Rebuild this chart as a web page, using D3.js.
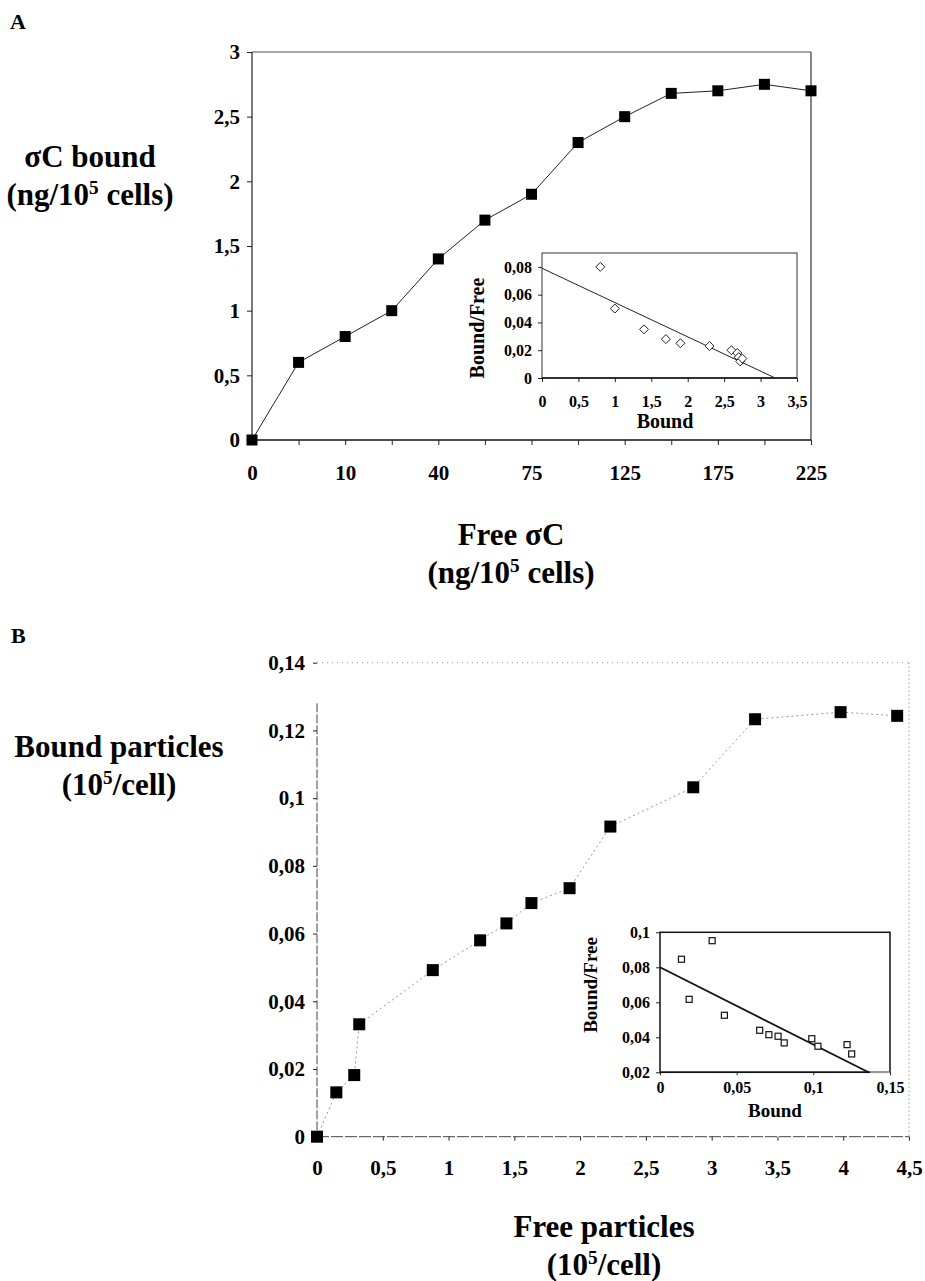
<!DOCTYPE html>
<meta charset="utf-8">
<style>
body { margin: 0; background: #fff; }
svg { display: block; }
text { font-family: "Liberation Serif", "Times New Roman", serif; font-weight: bold; fill: #000; }
.tick line { stroke: #222; }
</style>
<body>
<script src="https://cdn.jsdelivr.net/npm/d3@7"></script>
<script>

// ---- panel A : main curve (x = category index, Excel style axis)
var boundA = [0, 0.6, 0.8, 1.0, 1.4, 1.7, 1.9, 2.3, 2.5, 2.68, 2.7, 2.75, 2.7];
var xTickLabelsA = ["0", "10", "40", "75", "125", "175", "225"];
var yTicksA = [0, 0.5, 1, 1.5, 2, 2.5, 3];

// ---- panel A : inset (Scatchard)
var insetBoundA = [0.8, 1.0, 1.4, 1.7, 1.9, 2.3, 2.6, 2.68, 2.7, 2.72, 2.75];
var insetRatioA = [0.08, 0.05, 0.035, 0.028, 0.025, 0.023, 0.02, 0.018, 0.015, 0.012, 0.014];
var fitA = [[0, 0.079], [3.2, 0]];
var insetXTicksA = [0, 0.5, 1, 1.5, 2, 2.5, 3, 3.5];
var insetYTicksA = [0, 0.02, 0.04, 0.06, 0.08];

// ---- panel B : main curve
var freeB = [0, 0.147, 0.283, 0.321, 0.88, 1.24, 1.44, 1.63, 1.92, 2.23, 2.86, 3.33, 3.98, 4.41];
var boundB = [0, 0.0131, 0.0182, 0.0332, 0.0492, 0.058, 0.063, 0.069, 0.0734, 0.0916, 0.1032, 0.1233, 0.1254, 0.1243];
var xTicksB = [0, 0.5, 1, 1.5, 2, 2.5, 3, 3.5, 4, 4.5];
var yTicksB = [0, 0.02, 0.04, 0.06, 0.08, 0.1, 0.12, 0.14];

// ---- panel B : inset
var insetBoundB = [0.014, 0.034, 0.019, 0.042, 0.065, 0.071, 0.077, 0.081, 0.099, 0.103, 0.122, 0.125];
var insetRatioB = [0.0846, 0.0952, 0.0617, 0.0526, 0.044, 0.0415, 0.0406, 0.0368, 0.0392, 0.0349, 0.0358, 0.0305];
var fitB = [[0, 0.08], [0.136, 0.02]];
var insetXTicksB = [0, 0.05, 0.1, 0.15];
var insetYTicksB = [0.02, 0.04, 0.06, 0.08, 0.1];

var fr = d3.formatLocale({decimal: ",", thousands: ".", grouping: [3], currency: ["", ""]});
var fmt = fr.format("~g");

var svg = d3.select("body").append("svg")
    .attr("width", 925)
    .attr("height", 1281);

svg.append("rect").attr("width", 925).attr("height", 1281).attr("fill", "#fff");

function styleAxis(g, size, color) {
  g.selectAll("text").style("font-size", size + "px");
  g.select(".domain").remove();
  g.selectAll(".tick line").attr("stroke", color || "#222");
}

// two-line title with a superscript 5
function title(x, y, line1, pre, post, size) {
  var t = svg.append("text")
      .attr("x", x)
      .attr("y", y)
      .attr("text-anchor", "middle")
      .style("font-size", size + "px")
      .text(line1);
  var t2 = svg.append("text")
      .attr("x", x)
      .attr("y", y + size * 1.22)
      .attr("text-anchor", "middle")
      .style("font-size", size + "px");
  t2.append("tspan").text(pre);
  t2.append("tspan").attr("dy", -size * 0.36).style("font-size", (size * 0.62) + "px").text("5");
  t2.append("tspan").attr("dy", size * 0.36).text(post);
}

// ================= PANEL A =================
svg.append("text").attr("x", 10).attr("y", 29).style("font-size", "22px").text("A");

var xA = d3.scaleLinear().domain([0, 12]).range([252, 811]);
var yA = d3.scaleLinear().domain([0, 3]).range([440, 52]);

// frame
svg.append("line").attr("x1", xA(0)).attr("x2", xA(12)).attr("y1", yA(3)).attr("y2", yA(3))
    .attr("stroke", "#555").attr("stroke-width", 1);
svg.append("line").attr("x1", xA(12)).attr("x2", xA(12)).attr("y1", yA(3)).attr("y2", yA(0))
    .attr("stroke", "#333").attr("stroke-width", 1.2);
svg.append("line").attr("x1", xA(0)).attr("x2", xA(0)).attr("y1", yA(3)).attr("y2", yA(0))
    .attr("stroke", "#222").attr("stroke-width", 1.2);
svg.append("line").attr("x1", xA(0)).attr("x2", xA(12)).attr("y1", yA(0)).attr("y2", yA(0))
    .attr("stroke", "#111").attr("stroke-width", 1.5);

svg.append("g")
    .attr("transform", "translate(" + xA(0) + ",0)")
    .call(d3.axisLeft(yA).tickValues(yTicksA).tickFormat(fmt).tickSize(5).tickPadding(7))
    .call(styleAxis, 21);

svg.append("g")
    .attr("transform", "translate(0," + yA(0) + ")")
    .call(d3.axisBottom(xA).tickValues(d3.range(13)).tickSize(5).tickPadding(20)
      .tickFormat(function(i) { return i % 2 === 0 ? xTickLabelsA[i / 2] : ""; }))
    .call(styleAxis, 21);

svg.append("path")
    .datum(boundA)
    .attr("fill", "none")
    .attr("stroke", "#222")
    .attr("stroke-width", 1)
    .attr("d", d3.line().x(function(d, i) { return xA(i); }).y(function(d) { return yA(d); }));

svg.selectAll(".sqA")
    .data(boundA)
  .enter().append("rect")
    .attr("class", "sqA")
    .attr("x", function(d, i) { return xA(i) - 5.5; })
    .attr("y", function(d) { return yA(d) - 5.5; })
    .attr("width", 11)
    .attr("height", 11)
    .attr("fill", "#000");

title(90, 167, "\u03c3C bound", "(ng/10", " cells)", 31);
title(511, 545, "Free \u03c3C", "(ng/10", " cells)", 31);

// inset A
var ixA = d3.scaleLinear().domain([0, 3.5]).range([542, 797]);
var iyA = d3.scaleLinear().domain([0, 0.09]).range([378, 253]);

svg.append("rect")
    .attr("x", ixA(0)).attr("y", iyA(0.09))
    .attr("width", ixA(3.5) - ixA(0)).attr("height", iyA(0) - iyA(0.09))
    .attr("fill", "#fff").attr("stroke", "#333").attr("stroke-width", 1);

svg.append("g")
    .attr("transform", "translate(" + ixA(0) + ",0)")
    .call(d3.axisLeft(iyA).tickValues(insetYTicksA).tickFormat(fmt).tickSize(4).tickPadding(6))
    .call(styleAxis, 16);

svg.append("g")
    .attr("transform", "translate(0," + iyA(0) + ")")
    .call(d3.axisBottom(ixA).tickValues(insetXTicksA).tickFormat(fmt).tickSize(4).tickPadding(14))
    .call(styleAxis, 16);

svg.append("line")
    .attr("x1", ixA(0)).attr("x2", ixA(3.5)).attr("y1", iyA(0)).attr("y2", iyA(0))
    .attr("stroke", "#111").attr("stroke-width", 1.3);

svg.append("line")
    .attr("x1", ixA(fitA[0][0])).attr("y1", iyA(fitA[0][1]))
    .attr("x2", ixA(fitA[1][0])).attr("y2", iyA(fitA[1][1]))
    .attr("stroke", "#222").attr("stroke-width", 1);

svg.selectAll(".dmA")
    .data(insetBoundA)
  .enter().append("path")
    .attr("class", "dmA")
    .attr("d", "M0,-4.5L4.5,0L0,4.5L-4.5,0Z")
    .attr("transform", function(d, i) { return "translate(" + ixA(d) + "," + iyA(insetRatioA[i]) + ")"; })
    .attr("fill", "#fff")
    .attr("stroke", "#222")
    .attr("stroke-width", 1);

svg.append("text")
    .attr("transform", "translate(484,328) rotate(-90)")
    .attr("text-anchor", "middle")
    .style("font-size", "20px")
    .text("Bound/Free");

svg.append("text")
    .attr("x", 665).attr("y", 428)
    .attr("text-anchor", "middle")
    .style("font-size", "20px")
    .text("Bound");

// ================= PANEL B =================
svg.append("text").attr("x", 11).attr("y", 643).style("font-size", "22px").text("B");

var xB = d3.scaleLinear().domain([0, 4.5]).range([317, 909]);
var yB = d3.scaleLinear().domain([0, 0.14]).range([1136.7, 662.7]);

svg.append("line").attr("x1", xB(0)).attr("x2", xB(4.5)).attr("y1", yB(0.14)).attr("y2", yB(0.14))
    .attr("stroke", "#999").attr("stroke-width", 1).attr("stroke-dasharray", "1,4");
svg.append("line").attr("x1", xB(4.5)).attr("x2", xB(4.5)).attr("y1", yB(0.14)).attr("y2", yB(0))
    .attr("stroke", "#777").attr("stroke-width", 1).attr("stroke-dasharray", "1,3");
svg.append("line").attr("x1", xB(0)).attr("x2", xB(0)).attr("y1", yB(0.128)).attr("y2", yB(0))
    .attr("stroke", "#444").attr("stroke-width", 1).attr("stroke-dasharray", "9,2");
svg.append("line").attr("x1", xB(0)).attr("x2", xB(4.5)).attr("y1", yB(0)).attr("y2", yB(0))
    .attr("stroke", "#444").attr("stroke-width", 1).attr("stroke-dasharray", "12,2");

svg.append("g")
    .attr("transform", "translate(" + xB(0) + ",0)")
    .call(d3.axisLeft(yB).tickValues(yTicksB).tickFormat(fmt).tickSize(4).tickPadding(8))
    .call(styleAxis, 21, "#666");

svg.append("g")
    .attr("transform", "translate(0," + yB(0) + ")")
    .call(d3.axisBottom(xB).tickValues(xTicksB).tickFormat(fmt).tickSize(4).tickPadding(19))
    .call(styleAxis, 21, "#666");

svg.append("path")
    .datum(freeB)
    .attr("fill", "none")
    .attr("stroke", "#999")
    .attr("stroke-width", 1)
    .attr("stroke-dasharray", "2,3")
    .attr("d", d3.line().x(function(d) { return xB(d); }).y(function(d, i) { return yB(boundB[i]); }));

svg.selectAll(".sqB")
    .data(freeB)
  .enter().append("rect")
    .attr("class", "sqB")
    .attr("x", function(d) { return xB(d) - 6; })
    .attr("y", function(d, i) { return yB(boundB[i]) - 6; })
    .attr("width", 12)
    .attr("height", 12)
    .attr("fill", "#000");

title(119, 757, "Bound particles", "(10", "/cell)", 31);
title(604, 1237, "Free particles", "(10", "/cell)", 31);

// inset B
var ixB = d3.scaleLinear().domain([0, 0.15]).range([660, 890]);
var iyB = d3.scaleLinear().domain([0.02, 0.1]).range([1072.3, 932.3]);

svg.append("rect")
    .attr("x", ixB(0)).attr("y", iyB(0.1))
    .attr("width", ixB(0.15) - ixB(0)).attr("height", iyB(0.02) - iyB(0.1))
    .attr("fill", "#fff").attr("stroke", "#111").attr("stroke-width", 1.5);

svg.append("line")
    .attr("x1", ixB(0)).attr("x2", ixB(0.15)).attr("y1", iyB(0.02)).attr("y2", iyB(0.02))
    .attr("stroke", "#999").attr("stroke-width", 1.5);
svg.append("line")
    .attr("x1", ixB(0)).attr("x2", ixB(0.137)).attr("y1", iyB(0.02)).attr("y2", iyB(0.02))
    .attr("stroke", "#111").attr("stroke-width", 1.5);

svg.append("g")
    .attr("transform", "translate(" + ixB(0) + ",0)")
    .call(d3.axisLeft(iyB).tickValues(insetYTicksB).tickFormat(fmt).tickSize(4).tickPadding(6))
    .call(styleAxis, 16);

svg.append("g")
    .attr("transform", "translate(0," + iyB(0.02) + ")")
    .call(d3.axisBottom(ixB).tickValues(insetXTicksB).tickFormat(fmt).tickSize(3).tickPadding(6))
    .call(styleAxis, 16);

svg.append("line")
    .attr("x1", ixB(fitB[0][0])).attr("y1", iyB(fitB[0][1]))
    .attr("x2", ixB(fitB[1][0])).attr("y2", iyB(fitB[1][1]))
    .attr("stroke", "#111").attr("stroke-width", 1.8);

svg.selectAll(".osB")
    .data(insetBoundB)
  .enter().append("rect")
    .attr("class", "osB")
    .attr("x", function(d) { return ixB(d) - 3; })
    .attr("y", function(d, i) { return iyB(insetRatioB[i]) - 3; })
    .attr("width", 6)
    .attr("height", 6)
    .attr("fill", "#fff")
    .attr("stroke", "#111")
    .attr("stroke-width", 1.2);

svg.append("text")
    .attr("transform", "translate(597,985) rotate(-90)")
    .attr("text-anchor", "middle")
    .style("font-size", "19px")
    .text("Bound/Free");

svg.append("text")
    .attr("x", 775).attr("y", 1117)
    .attr("text-anchor", "middle")
    .style("font-size", "19px")
    .text("Bound");

</script>
